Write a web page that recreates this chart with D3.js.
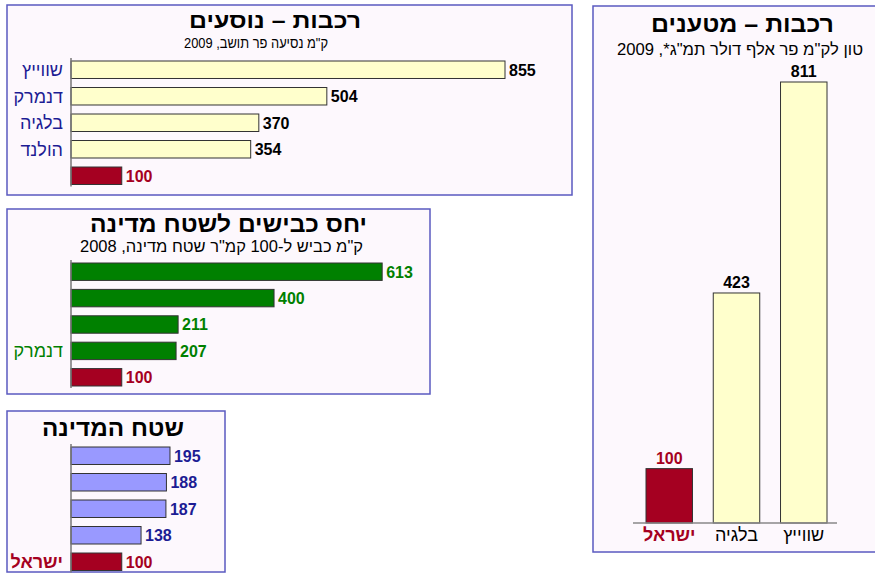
<!DOCTYPE html>
<html>
<head>
<meta charset="utf-8">
<script src="https://cdn.jsdelivr.net/npm/d3@7"></script>
<style>
  body { margin: 0; background: #fff; }
  svg { display: block; font-family: "Liberation Sans", Arial, sans-serif; }
</style>
</head>
<body>
<div id="chart"></div>
<script>
// Passenger rail, km per resident 2009
var passLabels = ['שווייץ', 'דנמרק', 'בלגיה', 'הולנד', '']
var passValues = [855, 504, 370, 354, 100]

// Roads per 100 sq km of area, 2008
var roadLabels = ['', '', '', 'דנמרק', '']
var roadValues = [613, 400, 211, 207, 100]

// Country area
var areaLabels = ['', '', '', '', 'ישראל']
var areaValues = [195, 188, 187, 138, 100]

// Freight rail, ton-km per thousand dollars GDP 2009
var freightCategories = ['ישראל', 'בלגיה', 'שווייץ']
var freightValues = [100, 423, 811]

var israelIndex = 4
var colIsrael = '#a50021'
var colYellow = '#ffffcc'
var colGreen = '#008000'
var colBlue = '#9999ff'
var colNavy = '#1c1c94'
var panelFill = '#fdf8fd'
var panelStroke = '#5a5ac0'

var RLE = '\u202B'
var PDF = '\u202C'

var svg = d3.select('#chart').append('svg')
  .attr('width', 875)
  .attr('height', 574)

// Shared horizontal scale for the three left panels
var xScale = d3.scaleLinear().domain([0, 855]).range([71, 505])

/**
 * Draw a framed panel
 */
function panel (x, y, w, h) {
  svg.append('rect')
    .attr('x', x).attr('y', y)
    .attr('width', w).attr('height', h)
    .style('fill', panelFill)
    .style('stroke', panelStroke)
    .style('stroke-width', '1.5px')
}

// Centered heading text, stretched to the width seen in the original
function heading (x, y, txt, size, len, bold) {
  svg.append('text')
    .attr('x', x - len / 2).attr('y', y)
    .attr('textLength', len)
    .attr('lengthAdjust', 'spacingAndGlyphs')
    .style('font-size', size + 'px')
    .style('font-weight', bold ? 'bold' : 'normal')
    .style('fill', '#000')
    .text(RLE + txt + PDF)
}

/**
 * Horizontal bar group
 */
function hBars (values, labels, y0, y1, fill, valueColor, labelColor) {
  var yScale = d3.scaleBand()
    .domain(d3.range(values.length))
    .range([y0, y1])
    .paddingInner(0.34)
    .paddingOuter(0)

  var g = svg.append('g')

  g.selectAll('.bar')
    .data(values)
    .enter().append('rect')
    .attr('class', 'bar')
    .attr('x', xScale(0))
    .attr('y', function (d, i) { return yScale(i) })
    .attr('width', function (d) { return xScale(d) - xScale(0) })
    .attr('height', yScale.bandwidth())
    .style('fill', function (d, i) { return i === israelIndex ? colIsrael : fill })
    .style('stroke', '#333')
    .style('stroke-width', '1px')

  g.append('line')
    .attr('x1', xScale(0)).attr('x2', xScale(0))
    .attr('y1', y0 - 3).attr('y2', y1 + 2)
    .style('stroke', '#777')
    .style('stroke-width', '1.5px')

  g.selectAll('.val')
    .data(values)
    .enter().append('text')
    .attr('class', 'val')
    .attr('x', function (d) { return xScale(d) + 4 })
    .attr('y', function (d, i) { return yScale(i) + yScale.bandwidth() / 2 })
    .attr('dy', '.37em')
    .style('font-size', '16px')
    .style('font-weight', 'bold')
    .style('fill', function (d, i) { return i === israelIndex ? colIsrael : valueColor })
    .text(function (d) { return d })

  g.selectAll('.lab')
    .data(labels)
    .enter().append('text')
    .attr('class', 'lab')
    .attr('x', xScale(0) - 8)
    .attr('y', function (d, i) { return yScale(i) + yScale.bandwidth() / 2 })
    .attr('dy', '.36em')
    .attr('text-anchor', 'end')
    .style('font-size', '18px')
    .style('font-weight', function (d, i) { return i === israelIndex ? 'bold' : 'normal' })
    .style('fill', function (d, i) { return i === israelIndex ? colIsrael : labelColor })
    .text(function (d) { return d })
}

// Top-left panel: passengers
panel(7, 5, 565, 190)
heading(275, 28, 'רכבות – נוסעים', 22, 172, true)
heading(256, 48, 'ק"מ נסיעה פר תושב, 2009', 15, 144, false)
hBars(passValues, passLabels, 61, 184.5, colYellow, '#000', colNavy)

// Middle-left panel: roads
panel(7, 209, 423, 185)
heading(228.5, 232, 'יחס כבישים לשטח מדינה', 23, 277, true)
heading(221.5, 252, 'ק"מ כביש ל-100 קמ"ר שטח מדינה, 2008', 16, 283, false)
hBars(roadValues, roadLabels, 263, 386, colGreen, colGreen, colGreen)

// Bottom-left panel: area
panel(7, 411, 218, 161)
heading(113, 436, 'שטח המדינה', 23, 142, true)
hBars(areaValues, areaLabels, 447, 570.5, colBlue, colNavy, colNavy)

// Right panel: freight
panel(593, 6, 290, 546)
heading(742.5, 32, 'רכבות – מטענים', 23, 183, true)
heading(740, 55, 'טון לק"מ פר אלף דולר תמ"ג*, 2009', 16, 246, false)

var fx = d3.scaleBand()
  .domain(freightCategories)
  .range([646, 827])
  .paddingInner(0.309)
  .paddingOuter(0)

var fy = d3.scaleLinear().domain([0, 811]).range([523, 82])

var fg = svg.append('g')

fg.selectAll('.fbar')
  .data(freightValues)
  .enter().append('rect')
  .attr('class', 'fbar')
  .attr('x', function (d, i) { return fx(freightCategories[i]) })
  .attr('y', function (d) { return fy(d) })
  .attr('width', fx.bandwidth())
  .attr('height', function (d) { return fy(0) - fy(d) })
  .style('fill', function (d, i) { return i === 0 ? colIsrael : colYellow })
  .style('stroke', '#333')
  .style('stroke-width', '1px')

fg.append('line')
  .attr('x1', 633).attr('x2', 837)
  .attr('y1', fy(0)).attr('y2', fy(0))
  .style('stroke', '#888')
  .style('stroke-width', '1.5px')

fg.selectAll('.fval')
  .data(freightValues)
  .enter().append('text')
  .attr('class', 'fval')
  .attr('x', function (d, i) { return fx(freightCategories[i]) + fx.bandwidth() / 2 })
  .attr('y', function (d) { return fy(d) - 5 })
  .attr('text-anchor', 'middle')
  .style('font-size', '16px')
  .style('font-weight', 'bold')
  .style('fill', function (d, i) { return i === 0 ? colIsrael : '#000' })
  .text(function (d) { return d })

fg.selectAll('.fcat')
  .data(freightCategories)
  .enter().append('text')
  .attr('class', 'fcat')
  .attr('x', function (d) { return fx(d) + fx.bandwidth() / 2 })
  .attr('y', fy(0) + 18)
  .attr('text-anchor', 'middle')
  .style('font-size', '18px')
  .style('font-weight', function (d, i) { return i === 0 ? 'bold' : 'normal' })
  .style('fill', function (d, i) { return i === 0 ? colIsrael : '#000' })
  .text(function (d) { return d })
</script>
</body>
</html>
